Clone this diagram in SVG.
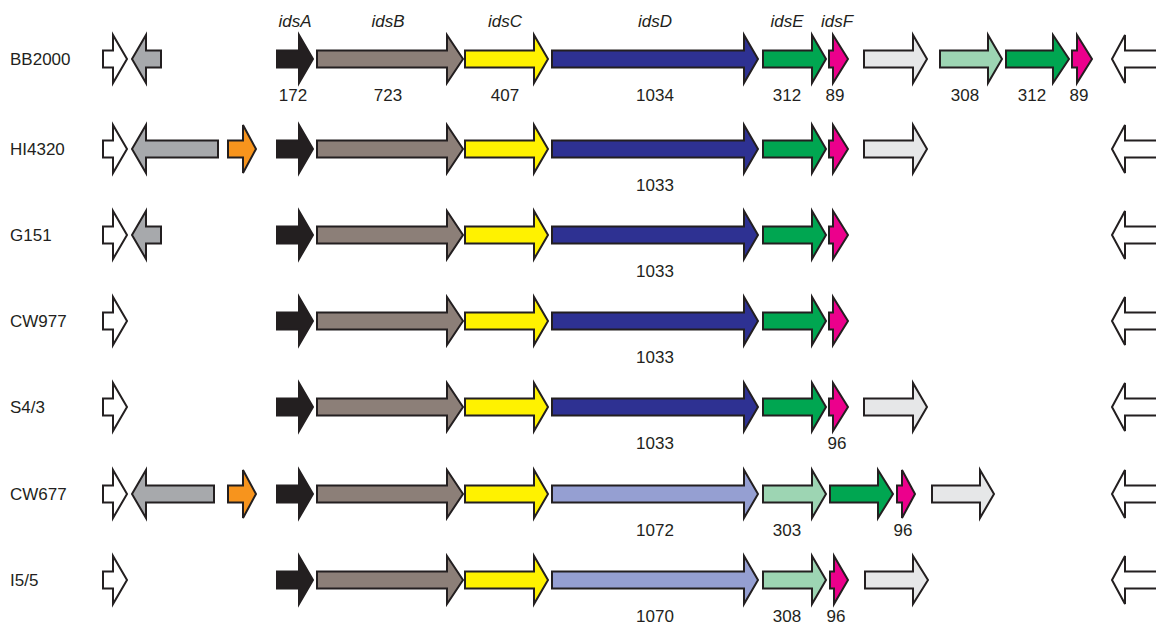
<svg xmlns="http://www.w3.org/2000/svg" xmlns:xlink="http://www.w3.org/1999/xlink" width="1156" height="624" viewBox="0 0 1156 624">
<style>
.g{stroke:#231f20;stroke-width:2;stroke-linejoin:miter}
.wh{fill:#ffffff}.gy{fill:#a7a9ac}.or{fill:#f7941d}.bk{fill:#231f20}.br{fill:#8c7f78}
.ye{fill:#fff200}.bl{fill:#2e3192}.lb{fill:#959fd2}.gr{fill:#00a651}.lg{fill:#9dd5b3}
.mg{fill:#ec008c}.lt{fill:#e6e7e8}
text{font-family:"Liberation Sans",Arial,sans-serif;font-size:17px;fill:#231f20}
.n{text-anchor:middle}.it{font-style:italic;text-anchor:middle}
</style>
<defs>
<path id="sWhite" d="M103 -8.5H113V-24L127 0L113 24V8.5H103Z"/>
<path id="sGrayShort" d="M161 -8.5H146V-24L132 0L146 24V8.5H161Z"/>
<path id="sOrange" d="M228 -8.5H243V-24L256 0L243 24V8.5H228Z"/>
<path id="sA" d="M277 -8.5H299V-24L313 0L299 24V8.5H277Z"/>
<path id="sB" d="M317 -8.5H447V-24L463 0L447 24V8.5H317Z"/>
<path id="sC" d="M465 -8.5H534V-24L548 0L534 24V8.5H465Z"/>
<path id="sD" d="M552 -8.5H744V-24L758 0L744 24V8.5H552Z"/>
<path id="sE" d="M763 -8.5H812V-24L826 0L812 24V8.5H763Z"/>
<path id="sF" d="M829 -8.5H833V-24L848 0L833 24V8.5H829Z"/>
<path id="sLt" d="M864 -8.5H913V-24L927 0L913 24V8.5H864Z"/>
<path id="sEnd" d="M1170 -8.5H1125V-24L1112 0L1125 24V8.5H1170Z"/>
</defs>

<g id="gene-names">
<text class="it" x="295" y="27">idsA</text>
<text class="it" x="388" y="27">idsB</text>
<text class="it" x="505" y="27">idsC</text>
<text class="it" x="655" y="27">idsD</text>
<text class="it" x="787" y="27">idsE</text>
<text class="it" x="837" y="27">idsF</text>
</g>

<g id="row-BB2000" transform="translate(0,59)">
<text x="10" y="6">BB2000</text>
<use xlink:href="#sWhite" class="g wh"/>
<use xlink:href="#sGrayShort" class="g gy"/>
<use xlink:href="#sA" class="g bk"/>
<use xlink:href="#sB" class="g br"/>
<use xlink:href="#sC" class="g ye"/>
<use xlink:href="#sD" class="g bl"/>
<use xlink:href="#sE" class="g gr"/>
<use xlink:href="#sF" class="g mg"/>
<use xlink:href="#sLt" class="g lt"/>
<path class="g lg" d="M940 -8.5H988V-24L1002 0L988 24V8.5H940Z"/>
<path class="g gr" d="M1006 -8.5H1053V-24L1069 0L1053 24V8.5H1006Z"/>
<path class="g mg" d="M1072 -8.5H1077V-24L1092 0L1077 24V8.5H1072Z"/>
<use xlink:href="#sEnd" class="g wh"/>
<text class="n" x="293" y="42">172</text>
<text class="n" x="388" y="42">723</text>
<text class="n" x="505" y="42">407</text>
<text class="n" x="655" y="42">1034</text>
<text class="n" x="787" y="42">312</text>
<text class="n" x="835" y="42">89</text>
<text class="n" x="965" y="42">308</text>
<text class="n" x="1032" y="42">312</text>
<text class="n" x="1079" y="42">89</text>
</g>

<g id="row-HI4320" transform="translate(0,149)">
<text x="10" y="6">HI4320</text>
<use xlink:href="#sWhite" class="g wh"/>
<path class="g gy" d="M218 -8.5H146V-24L132 0L146 24V8.5H218Z"/>
<use xlink:href="#sOrange" class="g or"/>
<use xlink:href="#sA" class="g bk"/>
<use xlink:href="#sB" class="g br"/>
<use xlink:href="#sC" class="g ye"/>
<use xlink:href="#sD" class="g bl"/>
<use xlink:href="#sE" class="g gr"/>
<use xlink:href="#sF" class="g mg"/>
<use xlink:href="#sLt" class="g lt"/>
<use xlink:href="#sEnd" class="g wh"/>
<text class="n" x="655" y="42">1033</text>
</g>

<g id="row-G151" transform="translate(0,235)">
<text x="10" y="6">G151</text>
<use xlink:href="#sWhite" class="g wh"/>
<use xlink:href="#sGrayShort" class="g gy"/>
<use xlink:href="#sA" class="g bk"/>
<use xlink:href="#sB" class="g br"/>
<use xlink:href="#sC" class="g ye"/>
<use xlink:href="#sD" class="g bl"/>
<use xlink:href="#sE" class="g gr"/>
<use xlink:href="#sF" class="g mg"/>
<use xlink:href="#sEnd" class="g wh"/>
<text class="n" x="655" y="42">1033</text>
</g>

<g id="row-CW977" transform="translate(0,321)">
<text x="10" y="6">CW977</text>
<use xlink:href="#sWhite" class="g wh"/>
<use xlink:href="#sA" class="g bk"/>
<use xlink:href="#sB" class="g br"/>
<use xlink:href="#sC" class="g ye"/>
<use xlink:href="#sD" class="g bl"/>
<use xlink:href="#sE" class="g gr"/>
<use xlink:href="#sF" class="g mg"/>
<use xlink:href="#sEnd" class="g wh"/>
<text class="n" x="655" y="42">1033</text>
</g>

<g id="row-S4-3" transform="translate(0,407)">
<text x="10" y="6">S4/3</text>
<use xlink:href="#sWhite" class="g wh"/>
<use xlink:href="#sA" class="g bk"/>
<use xlink:href="#sB" class="g br"/>
<use xlink:href="#sC" class="g ye"/>
<use xlink:href="#sD" class="g bl"/>
<use xlink:href="#sE" class="g gr"/>
<use xlink:href="#sF" class="g mg"/>
<use xlink:href="#sLt" class="g lt"/>
<use xlink:href="#sEnd" class="g wh"/>
<text class="n" x="655" y="42">1033</text>
<text class="n" x="837" y="42">96</text>
</g>

<g id="row-CW677" transform="translate(0,494)">
<text x="10" y="6">CW677</text>
<use xlink:href="#sWhite" class="g wh"/>
<path class="g gy" d="M214 -8.5H146V-24L132 0L146 24V8.5H214Z"/>
<use xlink:href="#sOrange" class="g or"/>
<use xlink:href="#sA" class="g bk"/>
<use xlink:href="#sB" class="g br"/>
<use xlink:href="#sC" class="g ye"/>
<use xlink:href="#sD" class="g lb"/>
<use xlink:href="#sE" class="g lg"/>
<path class="g gr" d="M830 -8.5H878V-24L893 0L878 24V8.5H830Z"/>
<path class="g mg" d="M897 -8.5H902V-24L915 0L902 24V8.5H897Z"/>
<path class="g lt" d="M932 -8.5H980V-24L994 0L980 24V8.5H932Z"/>
<use xlink:href="#sEnd" class="g wh"/>
<text class="n" x="655" y="42">1072</text>
<text class="n" x="787" y="42">303</text>
<text class="n" x="903" y="42">96</text>
</g>

<g id="row-I5-5" transform="translate(0,580)">
<text x="10" y="6">I5/5</text>
<use xlink:href="#sWhite" class="g wh"/>
<use xlink:href="#sA" class="g bk"/>
<use xlink:href="#sB" class="g br"/>
<use xlink:href="#sC" class="g ye"/>
<use xlink:href="#sD" class="g lb"/>
<use xlink:href="#sE" class="g lg"/>
<path class="g mg" d="M830 -8.5H834V-24L848 0L834 24V8.5H830Z"/>
<path class="g lt" d="M865 -8.5H913V-24L928 0L913 24V8.5H865Z"/>
<use xlink:href="#sEnd" class="g wh"/>
<text class="n" x="655" y="42">1070</text>
<text class="n" x="787" y="42">308</text>
<text class="n" x="836" y="42">96</text>
</g>
</svg>
